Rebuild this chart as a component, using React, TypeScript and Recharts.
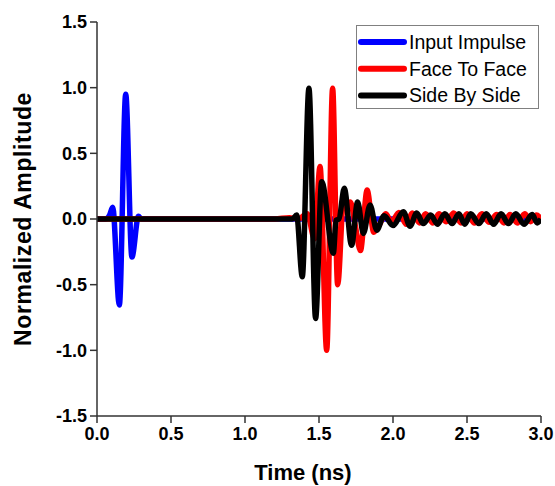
import React from 'react';
import { LineChart, Line, XAxis, YAxis, Legend, Label } from 'recharts';

// time (ns) / normalized amplitude
const impulseT = [0, 0.06, 0.085, 0.106, 0.151, 0.194, 0.236, 0.28, 0.3, 3.0];
const impulseA = [0, 0, 0.03, 0.09, -0.655, 0.95, -0.29, 0.02, 0, 0];

const faceT = [
  0, 1.2, 1.3, 1.36, 1.42, 1.47, 1.507, 1.552, 1.592, 1.626, 1.668, 1.69, 1.712, 1.745,
  1.78, 1.825, 1.87, 1.91, 1.95, 1.99, 2.04, 2.09, 2.13, 2.18, 2.22, 2.27, 2.31, 2.36,
  2.41, 2.46, 2.5, 2.55, 2.6, 2.65, 2.7, 2.75, 2.79, 2.84, 2.89, 2.93, 2.97, 3.0,
];
const faceA = [
  0, 0, 0.01, 0, 0.04, -0.15, 0.4, -1.0, 0.995, -0.5, 0.18, 0.08, 0.13, -0.05,
  -0.24, 0.22, -0.1, -0.04, 0.04, -0.02, 0.05, -0.04, 0.045, -0.03, 0.04, -0.03, 0.04, -0.02,
  0.045, -0.03, 0.04, -0.03, 0.04, -0.025, 0.035, -0.03, 0.035, -0.03, 0.04, -0.02, 0.03, 0,
];

const sideT = [
  0, 1.32, 1.349, 1.387, 1.432, 1.477, 1.518, 1.597, 1.615, 1.635, 1.671, 1.72, 1.761, 1.8,
  1.845, 1.89, 1.94, 2.0, 2.07, 2.115, 2.16, 2.205, 2.255, 2.3, 2.35, 2.4, 2.445, 2.485,
  2.525, 2.58, 2.63, 2.68, 2.73, 2.78, 2.83, 2.885, 2.94, 2.975, 3.0,
];
const sideA = [
  0, 0, 0.03, -0.44, 0.995, -0.757, 0.284, -0.26, -0.01, 0, 0.234, -0.2, 0.13, -0.11,
  0.107, -0.085, 0.025, -0.05, 0.055, -0.055, 0.045, -0.035, 0.03, -0.04, 0.04, -0.035, 0.04, -0.04,
  0.04, -0.035, 0.04, -0.04, 0.04, -0.035, 0.04, -0.04, 0.035, -0.03, 0,
];

const xTicks = [0, 0.5, 1.0, 1.5, 2.0, 2.5, 3.0];
const yTicks = [-1.5, -1.0, -0.5, 0, 0.5, 1.0, 1.5];

const series = [
  { name: 'Input Impulse', color: '#0000ff', t: impulseT, a: impulseA },
  { name: 'Face To Face', color: '#ff0000', t: faceT, a: faceA },
  { name: 'Side By Side', color: '#000000', t: sideT, a: sideA },
];

const font = '"Liberation Sans", Arial, sans-serif';
const axisColor = '#333';

const LegendBox = () => (
  <div
    style={{
      width: 183,
      height: 84,
      boxSizing: 'border-box',
      border: '1px solid #808080',
      background: '#fff',
      fontFamily: font,
    }}
  >
    <svg width={181} height={82}>
      {series.map((s, i) => (
        <g key={s.name}>
          <line
            x1={4}
            x2={47}
            y1={16 + i * 26.7}
            y2={16 + i * 26.7}
            stroke={s.color}
            strokeWidth={6}
            strokeLinecap="round"
          />
          <text x={52} y={16 + i * 26.7} dy="0.36em" fontSize={19.5} fill="#000">
            {s.name}
          </text>
        </g>
      ))}
    </svg>
  </div>
);

export default function App() {
  return (
    <div style={{ position: 'absolute', left: 0, top: 0, background: '#fff' }}>
      <LineChart width={555} height={486} margin={{ top: 22, right: 14, left: 0, bottom: 0 }}>
        <XAxis
          type="number"
          dataKey="t"
          domain={[0, 3]}
          ticks={xTicks}
          allowDataOverflow
          tickFormatter={(v: number) => v.toFixed(1)}
          height={70}
          tickSize={7}
          tickMargin={4}
          stroke={axisColor}
          strokeWidth={1.5}
          tick={{ fill: '#000', fontSize: 18, fontWeight: 'bold', fontFamily: font }}
        >
          <Label
            value="Time (ns)"
            position="insideBottom"
            offset={6}
            dx={-16}
            style={{ fill: '#000', fontSize: 22, fontWeight: 'bold', fontFamily: font }}
          />
        </XAxis>
        <XAxis
          xAxisId="top"
          orientation="top"
          type="number"
          domain={[0, 3]}
          height={0}
          tick={false}
          tickLine={false}
          stroke={axisColor}
          strokeWidth={1.5}
        />
        <YAxis
          type="number"
          domain={[-1.5, 1.5]}
          ticks={yTicks}
          allowDataOverflow
          tickFormatter={(v: number) => v.toFixed(1)}
          width={97}
          tickSize={7}
          tickMargin={3}
          stroke={axisColor}
          strokeWidth={1.5}
          tick={{ fill: '#000', fontSize: 18, fontWeight: 'bold', fontFamily: font }}
        >
          <Label
            value="Normalized Amplitude"
            angle={-90}
            position="insideLeft"
            offset={23}
            style={{
              textAnchor: 'middle',
              fill: '#000',
              fontSize: 23,
              letterSpacing: 0.6,
              fontWeight: 'bold',
              fontFamily: font,
            }}
          />
        </YAxis>
        <YAxis
          yAxisId="right"
          orientation="right"
          type="number"
          domain={[-1.5, 1.5]}
          width={0}
          tick={false}
          tickLine={false}
          stroke={axisColor}
          strokeWidth={1.5}
        />
        <Legend
          layout="vertical"
          verticalAlign="middle"
          align="center"
          content={() => <LegendBox />}
          wrapperStyle={{ left: 356, top: 25, width: 183, height: 84 }}
        />
        {series.map((s) => (
          <Line
            key={s.name}
            name={s.name}
            data={s.t.map((t, i) => ({ t, v: s.a[i] }))}
            dataKey="v"
            type="monotone"
            stroke={s.color}
            strokeWidth={5.5}
            dot={false}
            activeDot={false}
            isAnimationActive={false}
          />
        ))}
      </LineChart>
    </div>
  );
}
